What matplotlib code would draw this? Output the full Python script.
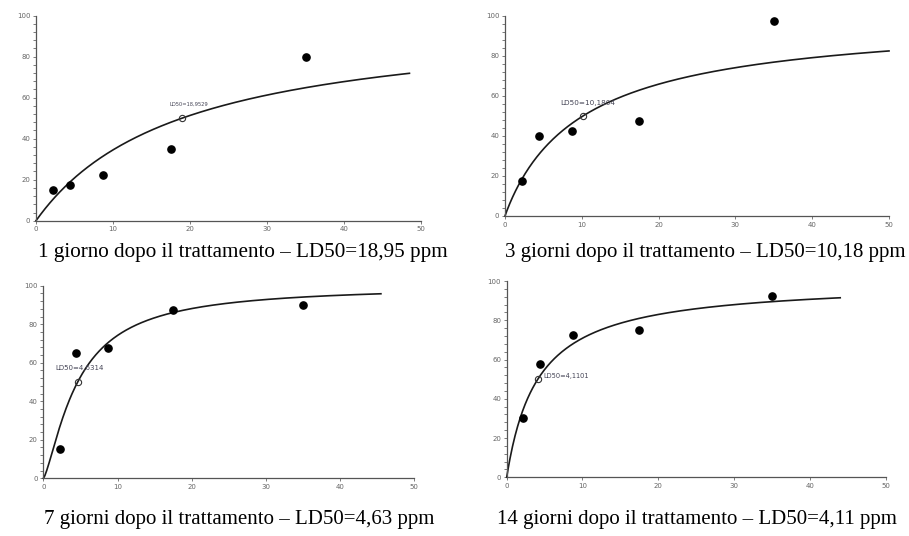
import numpy as np
import matplotlib
matplotlib.use("Agg")
import matplotlib.pyplot as plt

# ---- data ----
doses = [2.2, 4.4, 8.75, 17.5, 35.0]
mort_1g = [15, 17.5, 22.5, 35, 80]
mort_3g = [17.5, 40, 42.5, 47.5, 97.5]
mort_7g = [15, 65, 67.5, 87.5, 90]
mort_14g = [30, 57.5, 72.5, 75, 92.5]

ld50 = [18.9529, 10.1804, 4.6314, 4.1101]
slope = [1.0, 0.97, 1.37, 1.0]
curve_end = [48.5, 50.0, 45.5, 44.0]

captions = [
    "1 giorno dopo il trattamento \u2013 LD50=18,95 ppm",
    "3 giorni dopo il trattamento \u2013 LD50=10,18 ppm",
    "7 giorni dopo il trattamento \u2013 LD50=4,63 ppm",
    "14 giorni dopo il trattamento \u2013 LD50=4,11 ppm",
]
ld_labels = ["LD50=18,9529", "LD50=10,1804", "LD50=4,6314", "LD50=4,1101"]
x_ticks = [0, 10, 20, 30, 40, 50]
y_ticks = [0, 20, 40, 60, 80, 100]

series = [mort_1g, mort_3g, mort_7g, mort_14g]

# ---- layout (figure fractions) ----
W, H = 909, 536
rects_px = [  # left, right, bottom(y0), top(y100) in pixels
    (36, 421, 220.7, 15.7),
    (505, 889, 216, 15.7),
    (43.3, 414.3, 478.3, 285.7),
    (506.7, 885.7, 477.3, 281),
]
label_pos = [(17.4, 57), (7.2, 56.4), (1.6, 57.3), (4.9, 51.6)]
label_size = [3.7, 5.2, 5.0, 4.8]
cap_px = [(243, 257), (705, 257), (239, 524), (697, 524)]  # center x, baseline y
cap_size = [15.2, 15.0, 15.0, 15.0]

fig = plt.figure(figsize=(W / 100, H / 100), dpi=100)
fig.patch.set_facecolor("white")

for i in range(4):
    l, r, b, t = rects_px[i]
    ax = fig.add_axes([l / W, 1 - b / H, (r - l) / W, (b - t) / H])
    ax.set_xlim(0, 50)
    ax.set_ylim(0, 100)
    for s in ["top", "right"]:
        ax.spines[s].set_visible(False)
    for s in ["left", "bottom"]:
        ax.spines[s].set_color("#555555")
        ax.spines[s].set_linewidth(0.9)
    ax.set_xticks(x_ticks)
    ax.set_yticks(y_ticks)
    ax.set_yticks(np.arange(0, 101, 4), minor=True)
    ax.tick_params(axis="both", labelsize=5, colors="#666666", length=2.5,
                   width=0.6, pad=1.5)
    ax.tick_params(axis="y", which="minor", length=2.5, width=0.6, colors="#666666")

    xs = np.linspace(0.001, curve_end[i], 400)
    ys = 100.0 / (1.0 + (ld50[i] / xs) ** slope[i])
    ax.plot(xs, ys, color="#1a1a1a", lw=1.2, clip_on=False)
    ax.plot(doses, series[i], "o", color="black", ms=5.2, clip_on=False)
    ax.plot([ld50[i]], [50], "o", mfc="none", mec="#333333", ms=4.5, mew=0.8)
    ax.text(label_pos[i][0], label_pos[i][1], ld_labels[i], fontsize=label_size[i],
            color="#444455", ha="left", va="center")

    fig.text(cap_px[i][0] / W, 1 - cap_px[i][1] / H, captions[i],
             family="Liberation Serif", fontsize=cap_size[i], ha="center",
             va="baseline", color="black")

fig.savefig("out.png", dpi=100, facecolor="white")
